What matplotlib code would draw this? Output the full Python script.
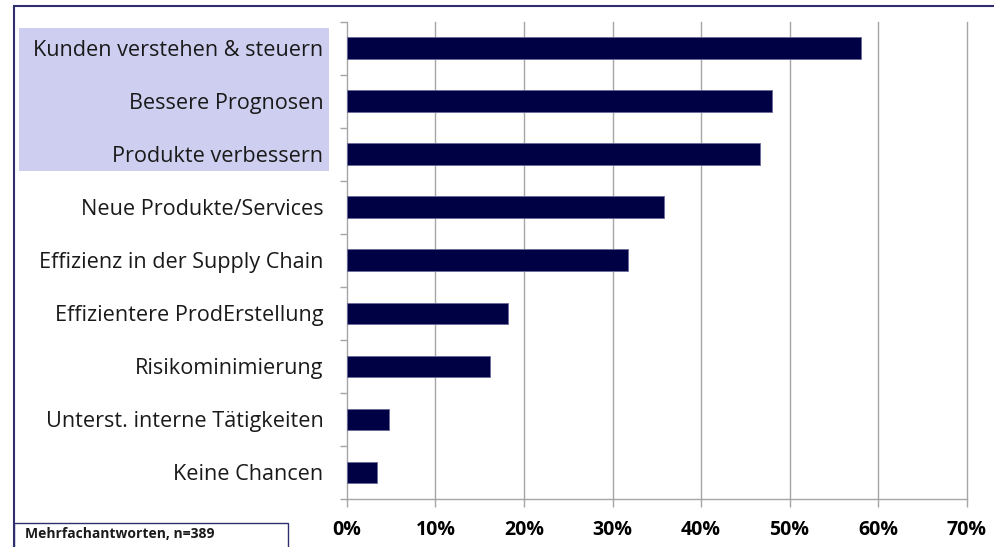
import numpy as np
import matplotlib
matplotlib.use("Agg")
import matplotlib.pyplot as plt
from matplotlib.patches import Rectangle

categories = ["Kunden verstehen & steuern", "Bessere Prognosen", "Produkte verbessern",
              "Neue Produkte/Services", "Effizienz in der Supply Chain",
              "Effizientere ProdErstellung", "Risikominimierung",
              "Unterst. interne Tätigkeiten", "Keine Chancen"]
values = [58.1, 48.0, 46.7, 35.8, 31.8, 18.2, 16.2, 4.7, 3.4]
xticks = [0, 10, 20, 30, 40, 50, 60, 70]
xticklabels = ["0%", "10%", "20%", "30%", "40%", "50%", "60%", "70%"]
note = "Mehrfachantworten, n=389"

plt.rcParams['font.family'] = ['Open Sans', 'DejaVu Sans']

W, H = 995, 547
fig = plt.figure(figsize=(W / 100, H / 100), dpi=100)
ax = fig.add_axes([347 / W, 1 - 499 / H, (966.5 - 347) / W, (499 - 21.7) / H])

n = len(categories)
pos = np.arange(n)
ax.barh(pos, values, height=0.41, color="#000044", edgecolor="#6a6a9a", linewidth=0.6, zorder=3)
ax.set_ylim(n - 0.5, -0.5)
ax.set_xlim(0, 70)

grid_c = "#a6a6a6"
ax.set_xticks(xticks, labels=xticklabels)
for t in xticks[1:]:
    ax.axvline(t, color=grid_c, lw=1.0, zorder=1, clip_on=False)
ax.tick_params(axis='x', length=6, width=1, color=grid_c, pad=9, labelsize=14)
for lab in ax.get_xticklabels():
    lab.set_fontweight('bold')

ax.set_yticks(np.arange(n + 1) - 0.5)
ax.set_yticklabels([])
ax.tick_params(axis='y', which='major', length=5, width=1, color=grid_c)
ax.set_yticks(pos, labels=categories, minor=True)
ax.tick_params(axis='y', which='minor', length=0, pad=17, labelsize=15.6, labelcolor="#1a1a1a")

for s in ['top', 'right']:
    ax.spines[s].set_visible(False)
for s in ['left', 'bottom']:
    ax.spines[s].set_color(grid_c)
    ax.spines[s].set_linewidth(1.0)

# highlight behind first three labels
fig.add_artist(Rectangle((19 / W, 1 - 171 / H), 310 / W, 143 / H,
                         transform=fig.transFigure, facecolor="#cecef0",
                         edgecolor="none", zorder=-1))
# outer frame
fig.add_artist(Rectangle((14 / W, -0.1), 1.2, 1.1 - 6 / H,
                         transform=fig.transFigure, fill=False,
                         edgecolor="#2f2f6f", lw=1.5, zorder=5))
# note box
fig.add_artist(Rectangle((14 / W, -0.1), (288 - 14) / W, 0.1 + 1 - 523 / H,
                         transform=fig.transFigure, fill=False,
                         edgecolor="#2f2f6f", lw=1.0, zorder=5))
fig.text(25 / W, 1 - 534 / H, note, fontsize=10, fontweight='bold',
         va='center', ha='left', color="#1a1a1a")

fig.savefig("out.png", dpi=100)
